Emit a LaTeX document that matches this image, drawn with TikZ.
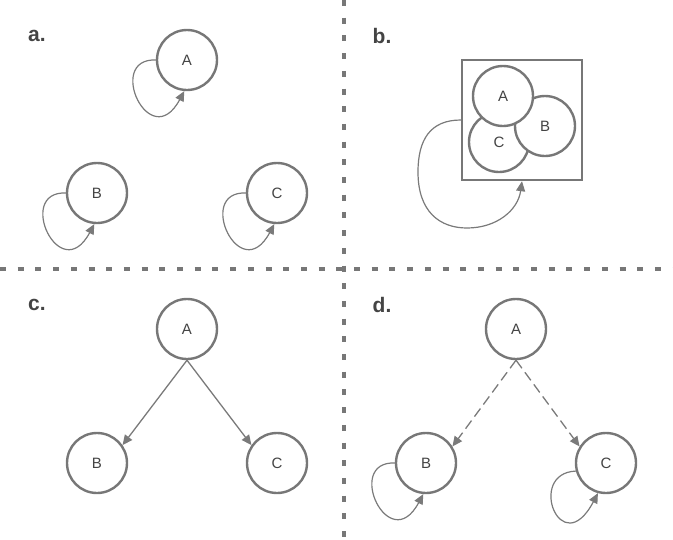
\documentclass[tikz,border=0pt]{standalone}
\usepackage{fontspec}
\setmainfont{Liberation Sans}
\usetikzlibrary{arrows.meta,calc}
\definecolor{ringgray}{HTML}{777777}
\definecolor{linegray}{HTML}{7A7A7A}
\definecolor{textgray}{HTML}{444444}
\tikzset{
  vnode/.style={circle,draw=ringgray,fill=white,line width=2.4pt,minimum size=60pt,inner sep=0pt,
    text=textgray,font=\fontsize{15}{15}\selectfont},
  panellabel/.style={text=textgray,font=\fontsize{21}{21}\selectfont\bfseries,inner sep=0pt},
  divider/.style={draw=ringgray,line width=3.5pt,dash pattern=on 6pt off 11.7pt},
  edge/.style={draw=linegray,line width=1.3pt,-{Triangle[length=10pt,width=9pt]}},
  dashededge/.style={edge,dash pattern=on 10pt off 5pt},
  loopedge/.style={draw=linegray,line width=1.2pt,-{Triangle[length=10pt,width=9pt]}},
  boxnode/.style={draw=ringgray,line width=2.4pt,minimum width=120pt,minimum height=120pt,inner sep=0pt}
}
\begin{document}
\begin{tikzpicture}[x=1pt,y=-1pt]
\useasboundingbox (0,0) rectangle (673,539);
% dividers
\coordinate (hl) at (0,269);
\coordinate (hr) at (673,269);
\coordinate (vt) at (344,0);
\coordinate (vb) at (344,539);
\draw[divider] (hl) -- (hr);
\draw[divider] (vt) -- (vb);

% panel labels
\node[panellabel] (la) at (37,36) {a.};
\node[panellabel] (lb) at (382,36) {b.};
\node[panellabel] (lc) at (37,305) {c.};
\node[panellabel] (ld) at (382,305) {d.};

% panel a
\node[vnode] (aA) at (187,60) {A};
\node[vnode] (aB) at (97,193) {B};
\node[vnode] (aC) at (277,193) {C};
\foreach \n in {aA,aB,aC}{
  \draw[loopedge] (\n.west) .. controls ($(\n)+(-82,-2)$) and ($(\n)+(-37,95)$) .. (\n.265);
}

% panel b
\node[boxnode] (box) at (522,120) {};
\node[vnode] (bC) at (499,142) {C};
\node[vnode] (bB) at (545,126) {B};
\node[vnode] (bA) at (503,96) {A};
\coordinate (bl) at (418,172);
\coordinate (bbot) at (467,228);
\draw[loopedge] (box.west) .. controls (430,120) and (418,140) .. (bl)
  .. controls (418,212) and (440,228) .. (bbot)
  .. controls (497,228) and (518,210) .. (box.south);

% panel c
\node[vnode] (cA) at (187,329) {A};
\node[vnode] (cB) at (97,463) {B};
\node[vnode] (cC) at (277,463) {C};
\draw[edge] (cA.south) -- (cB.35);
\draw[edge] (cA.south) -- (cC.145);

% panel d
\node[vnode] (dA) at (516,329) {A};
\node[vnode] (dB) at (426,463) {B};
\node[vnode] (dC) at (606,463) {C};
\draw[dashededge] (dA.south) -- (dB.32);
\draw[dashededge] (dA.south) -- (dC.148);
\draw[loopedge] (dB.west) .. controls ($(dB)+(-82,-2)$) and ($(dB)+(-37,95)$) .. (dB.265);
\draw[loopedge] (dC.195) .. controls ($(dC)+(-80,10)$) and ($(dC)+(-45,100)$) .. (dC.255);
\end{tikzpicture}
\end{document}
